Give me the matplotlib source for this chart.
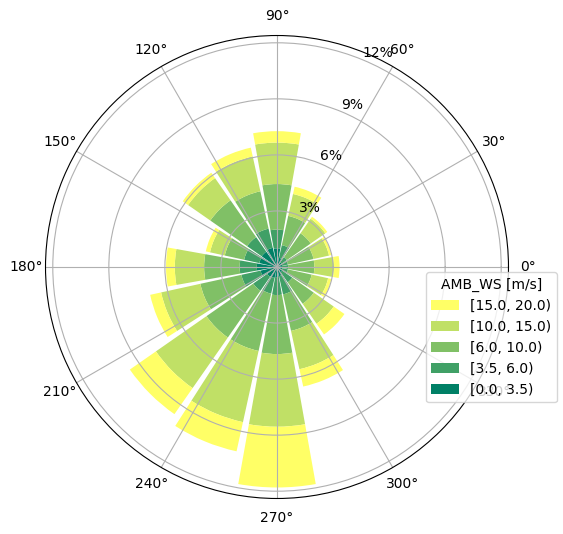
import numpy as np
import matplotlib
matplotlib.use("Agg")
import matplotlib.pyplot as plt

# wind direction bins (deg) and frequency [%] per speed class
directions = [0, 22.5, 45, 67.5, 90, 112.5, 135, 157.5,
              180, 202.5, 225, 247.5, 270, 292.5, 315, 337.5]
speed_labels = ["[0.0, 3.5)", "[3.5, 6.0)", "[6.0, 10.0)",
                "[10.0, 15.0)", "[15.0, 20.0)"]
ws_0_35 = [0.27, 0.28, 0.30, 0.50, 1.00, 1.05, 1.00, 0.97,
           1.08, 0.90, 0.64, 0.60, 0.54, 0.50, 0.35, 0.30]
ws_35_6 = [0.33, 0.32, 0.35, 0.70, 1.00, 1.05, 0.95, 0.83,
           0.92, 1.05, 0.91, 0.86, 0.96, 1.00, 0.65, 0.30]
ws_6_10 = [1.40, 1.40, 1.55, 1.60, 2.44, 2.05, 2.40, 1.06,
           1.90, 2.25, 3.05, 3.14, 3.16, 2.00, 1.40, 1.30]
ws_10_15 = [1.05, 0.85, 0.95, 1.20, 2.22, 1.91, 1.45, 0.81,
            1.57, 2.15, 3.30, 3.90, 3.89, 2.10, 1.30, 0.90]
ws_15_20 = [0.30, 0.13, 0.13, 0.40, 0.61, 0.48, 0.35, 0.23,
            0.47, 0.60, 1.70, 1.60, 3.25, 0.95, 0.70, 0.18]

freqs = [ws_0_35, ws_35_6, ws_6_10, ws_10_15, ws_15_20]
colors = plt.cm.summer(np.linspace(0, 1, len(freqs)))

theta = np.deg2rad(directions)
width = 0.9 * 2 * np.pi / len(directions)

fig = plt.figure(figsize=(5.63, 5.34), dpi=100)
ax = fig.add_axes([0.0808, 0.0665, 0.8224, 0.867], projection="polar")

bottom = np.zeros(len(directions))
bars = []
for f, c, lab in zip(freqs, colors, speed_labels):
    b = ax.bar(theta, f, width=width, bottom=bottom, color=c, label=lab)
    bars.append(b)
    bottom = bottom + np.array(f)

ax.set_thetagrids(range(0, 360, 30))
ax.set_yticks([3, 6, 9, 12])
ax.set_yticklabels(["3%", "6%", "9%", "12%"])
ax.set_rlabel_position(67.5)

ax.legend(bars[::-1], speed_labels[::-1], title="AMB_WS [m/s]",
          loc="upper left", bbox_to_anchor=(0.744, 0.503),
          bbox_transform=fig.transFigure)

fig.savefig("out.png", dpi=100)
